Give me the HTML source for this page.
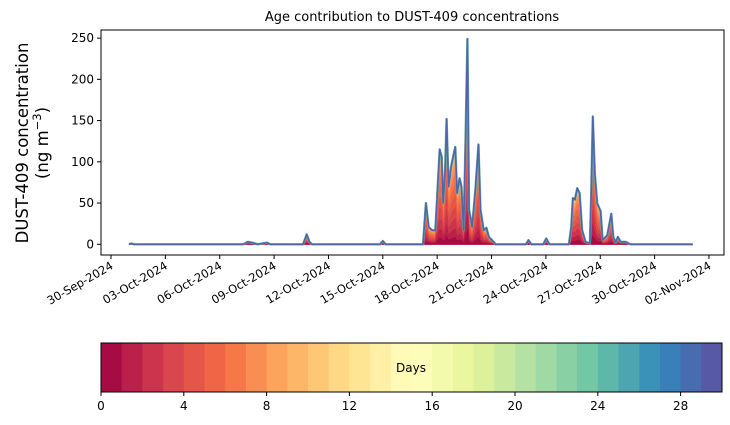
<!DOCTYPE html>
<html><head><meta charset="utf-8"><style>
body{margin:0;background:#fff;}
svg{display:block;font-family:"DejaVu Sans","Liberation Sans",sans-serif;}
</style></head><body>
<svg id="chart" width="730" height="425" viewBox="0 0 730 425">
<text x="412" y="21" font-size="13" text-anchor="middle">Age contribution to DUST-409 concentrations</text>
<g transform="translate(30,143) rotate(-90)">
<text x="0" y="-2" font-size="16.5" text-anchor="middle">DUST-409 concentration</text>
<text x="0" y="18" font-size="16.5" text-anchor="middle">(ng m<tspan dy="-7" font-size="11.5">−3</tspan><tspan dy="7">)</tspan></text>
</g>
<g id="plot"></g>
<g id="cbar"></g>
</svg>
<script>
const days=[1.0,1.1,1.3,7.3,7.55,7.8,8.1,8.6,8.8,10.6,10.8,10.95,11.1,14.85,15.0,15.15,17.22,17.38,17.53,17.72,17.9,18.14,18.25,18.33,18.44,18.52,18.63,18.77,18.88,19.0,19.1,19.24,19.34,19.46,19.57,19.67,19.76,19.93,20.11,20.28,20.39,20.57,20.72,20.85,21.03,21.22,22.9,23.04,23.2,23.85,24.02,24.2,25.27,25.4,25.49,25.6,25.73,25.86,26.0,26.19,26.43,26.5,26.59,26.7,26.83,27.02,27.13,27.39,27.61,27.72,27.85,27.97,28.12,28.4,28.67,32.1];
const totals=[0,1,0,0,3,2,0,2,0,0,12,3,0,0,4,0,0,50,21,17,17,115,106,50,90,152,70,94,106,118,62,80,70,17,130,249,42,21,66,121,42,17,20,9,5,0,0,5,0,0,7,0,0,21,56,54,68,62,17,3,1,60,155,86,50,40,5,11,37,9,2,9,3,3,0,0];
const ageShares=[0.07,0.09,0.11,0.12,0.12,0.12,0.11,0.09,0.06,0.035,0.02,0.012,0.008,0.005,0.004,0.003,0.003,0.002,0.002,0.002,0.002,0.002,0.002,0.002,0.002,0.002,0.002,0.003,0.003,0.004];
const yTicks=[0,50,100,150,200,250];
const xTickLabels=["30-Sep-2024","03-Oct-2024","06-Oct-2024","09-Oct-2024","12-Oct-2024","15-Oct-2024","18-Oct-2024","21-Oct-2024","24-Oct-2024","27-Oct-2024","30-Oct-2024","02-Nov-2024"];
const xTickDays=[0,3,6,9,12,15,18,21,24,27,30,33];
const cbarTicks=[0,4,8,12,16,20,24,28];

const NS="http://www.w3.org/2000/svg";
const L=101,R=724,T=30,B=255;
const xs=d=>111+d*18.12;
const ys=v=>244.3-v*0.8248;
const stops=["#9e0142","#d53e4f","#f46d43","#fdae61","#fee08b","#ffffbf","#e6f598","#abdda4","#66c2a5","#3288bd","#5e4fa2"];
function hx(h){return [1,3,5].map(i=>parseInt(h.substr(i,2),16));}
function spectral(t){const p=t*(stops.length-1);const i=Math.min(Math.floor(p),stops.length-2);const f=p-i;const a=hx(stops[i]),b=hx(stops[i+1]);return "rgb("+a.map((c,k)=>Math.round(c+(b[k]-c)*f)).join(",")+")";}
function mk(tag,attrs,parent){const e=document.createElementNS(NS,tag);for(const k in attrs)e.setAttribute(k,attrs[k]);parent.appendChild(e);return e;}
const plot=document.getElementById('plot');
const cb=document.getElementById('cbar');
const clip=mk('clipPath',{id:'pc'},plot);mk('rect',{x:L,y:T,width:R-L,height:B-T},clip);
const layersG=mk('g',{'clip-path':'url(#pc)'},plot);


const cum=[];let s=0;for(let k=0;k<30;k++){s+=ageShares[k];cum.push(s);}
const norm=s;
function linePath(k){let d="";days.forEach((dd,i)=>{d+=(i?" L":"M")+xs(dd).toFixed(2)+","+ys(totals[i]*cum[k]/norm).toFixed(2);});return d;}
for(let k=29;k>=0;k--){
  const d=linePath(k)+" L"+xs(days[days.length-1])+","+ys(0)+" L"+xs(days[0])+","+ys(0)+" Z";
  const c=spectral((k+0.5)/30);
  const p=mk('path',{d:d,fill:c,stroke:c,'stroke-width':0.6,'stroke-linejoin':'round'},layersG);
  
  
}
const halo=mk('path',{d:linePath(29),fill:'none',stroke:'#6fb5a6','stroke-width':2.4,'stroke-linejoin':'round'},layersG);


const outline=mk('path',{d:linePath(29),fill:'none',stroke:'#5065ab','stroke-width':1.6,'stroke-linejoin':'round'},layersG);


const frame=mk('rect',{x:L,y:T,width:R-L,height:B-T,fill:'none',stroke:'#000','stroke-width':1},plot);


yTicks.forEach(v=>{
  const y=ys(v);
  const t=mk('line',{x1:L-4,x2:L,y1:y,y2:y,stroke:'#000'},plot);
  
  
  const lb=mk('text',{x:L-7,y:y+4,'font-size':12,'text-anchor':'end'},plot);lb.textContent=v;
  
  
});
xTickDays.forEach((d,i)=>{
  const x=xs(d);
  const t=mk('line',{x1:x,x2:x,y1:B,y2:B+4,stroke:'#000'},plot);
  
  
  const lb=mk('text',{x:0,y:0,'font-size':11.5,'text-anchor':'end',transform:`translate(${x+3},${B+13}) rotate(-30)`},plot);lb.textContent=xTickLabels[i];
  
  
});
const CL=101,CR=722,CT=343,CB=392,N=30;
const cs=v=>CL+(CR-CL)*v/N;
for(let k=0;k<N;k++){
  const r=mk('rect',{x:cs(k),y:CT,width:cs(k+1)-cs(k)+0.5,height:CB-CT,fill:spectral((k+0.5)/N)},cb);
  
  
}
const cf=mk('rect',{x:CL,y:CT,width:CR-CL,height:CB-CT,fill:'none',stroke:'#000'},cb);


cbarTicks.forEach(v=>{
  const x=cs(v);
  const t=mk('line',{x1:x,x2:x,y1:CB,y2:CB+4,stroke:'#000'},cb);
  
  
  const lb=mk('text',{x:x,y:CB+18,'font-size':12,'text-anchor':'middle'},cb);lb.textContent=v;
  
  
});
const dl=mk('text',{x:411,y:372,'font-size':12,'text-anchor':'middle'},cb);dl.textContent="Days";


</script>
</body></html>
